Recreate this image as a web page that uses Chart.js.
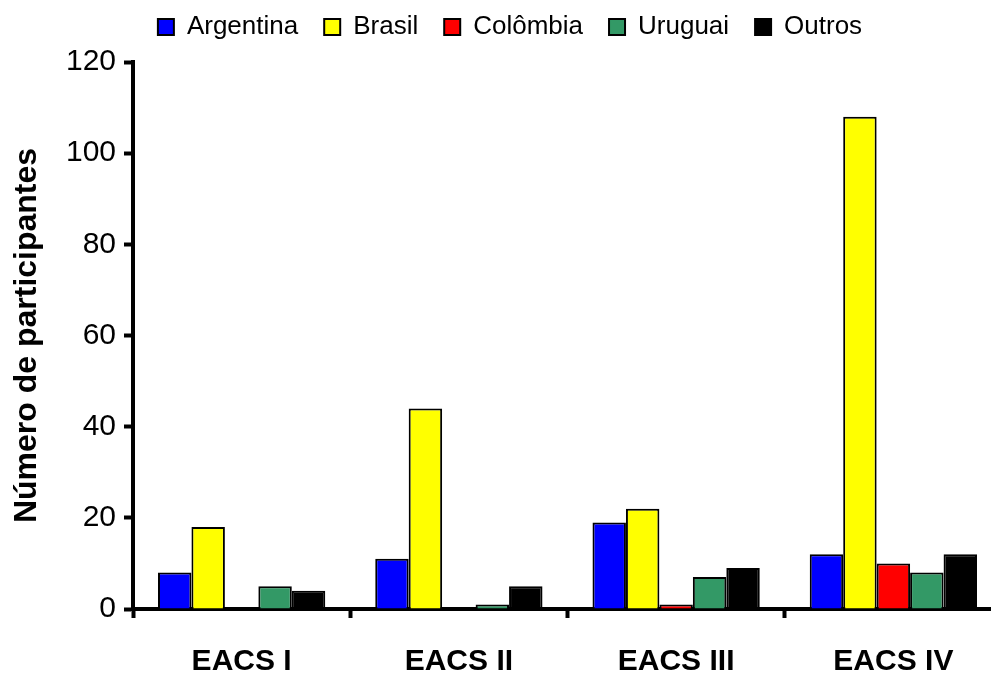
<!DOCTYPE html>
<html>
<head>
<meta charset="utf-8">
<script src="https://cdn.jsdelivr.net/npm/chart.js@4.4.1/dist/chart.umd.min.js"></script>
<style>
    html, body { margin: 0; padding: 0; background: #fff; overflow: hidden; }
    #wrap { width: 991px; height: 673px; overflow: hidden; }
</style>
</head>
<body>
<div id="wrap"><canvas id="participantesChart" width="1004" height="673"></canvas></div>
<script>
    var categories = ['EACS I', 'EACS II', 'EACS III', 'EACS IV'];
    var argentina = [8, 11, 19, 12];
    var brasil = [18, 44, 22, 108];
    var colombia = [0, 0, 1, 10];
    var uruguai = [5, 1, 7, 8];
    var outros = [4, 5, 9, 12];
    var yTicks = [0, 20, 40, 60, 80, 100, 120];

    var fontFamily = '"Liberation Sans", Arial, sans-serif';

    function series(label, values, color) {
        return {
            label: label,
            data: values,
            backgroundColor: color,
            borderColor: '#000000',
            borderWidth: 2,
            borderSkipped: 'bottom',
            categoryPercentage: 0.77,
            barPercentage: 1.0
        };
    }

    // legend sits high up, leave room below it before the plot starts
    var legendGap = {
        id: 'legendGap',
        beforeInit: function (chart) {
            var fit = chart.legend.fit;
            chart.legend.fit = function () {
                fit.call(this);
                this.height += 12;
            };
        }
    };

    new Chart(document.getElementById('participantesChart'), {
        type: 'bar',
        data: {
            labels: categories,
            datasets: [
                series('Argentina', argentina, '#0000ff'),
                series('Brasil', brasil, '#ffff00'),
                series('Colômbia', colombia, '#ff0000'),
                series('Uruguai', uruguai, '#339966'),
                series('Outros', outros, '#000000')
            ]
        },
        plugins: [legendGap],
        options: {
            responsive: false,
            devicePixelRatio: 1,
            animation: false,
            layout: { padding: { top: -12, left: 18, right: 2, bottom: 0 } },
            plugins: {
                tooltip: { enabled: false },
                legend: {
                    position: 'top',
                    labels: {
                        color: '#000',
                        boxWidth: 16,
                        boxHeight: 16,
                        padding: 26,
                        font: { family: fontFamily, size: 26 }
                    }
                }
            },
            scales: {
                x: {
                    z: 1,
                    offset: true,
                    border: { display: true, color: '#000', width: 4 },
                    grid: {
                        offset: true,
                        drawOnChartArea: false,
                        drawTicks: true,
                        tickLength: 9,
                        tickWidth: 4,
                        tickColor: '#000'
                    },
                    ticks: {
                        color: '#000',
                        padding: 26,
                        font: { family: fontFamily, size: 30, weight: 'bold' }
                    },
                    afterFit: function (scale) { scale.height = 64; }
                },
                y: {
                    min: 0,
                    max: 120,
                    border: { display: true, color: '#000', width: 4 },
                    grid: {
                        drawOnChartArea: false,
                        drawTicks: true,
                        tickLength: 9,
                        tickWidth: 4,
                        tickColor: '#000'
                    },
                    afterBuildTicks: function (scale) {
                        scale.ticks = yTicks.map(v => ({ value: v }));
                    },
                    ticks: {
                        color: '#000',
                        padding: 8,
                        font: { family: fontFamily, size: 30 }
                    },
                    title: {
                        display: true,
                        text: 'Número de participantes',
                        color: '#000',
                        padding: { top: -10, bottom: 0 },
                        font: { family: fontFamily, size: 32, weight: 'bold' }
                    },
                    afterFit: function (scale) { scale.width = 115; }
                }
            }
        }
    });
</script>
</body>
</html>
